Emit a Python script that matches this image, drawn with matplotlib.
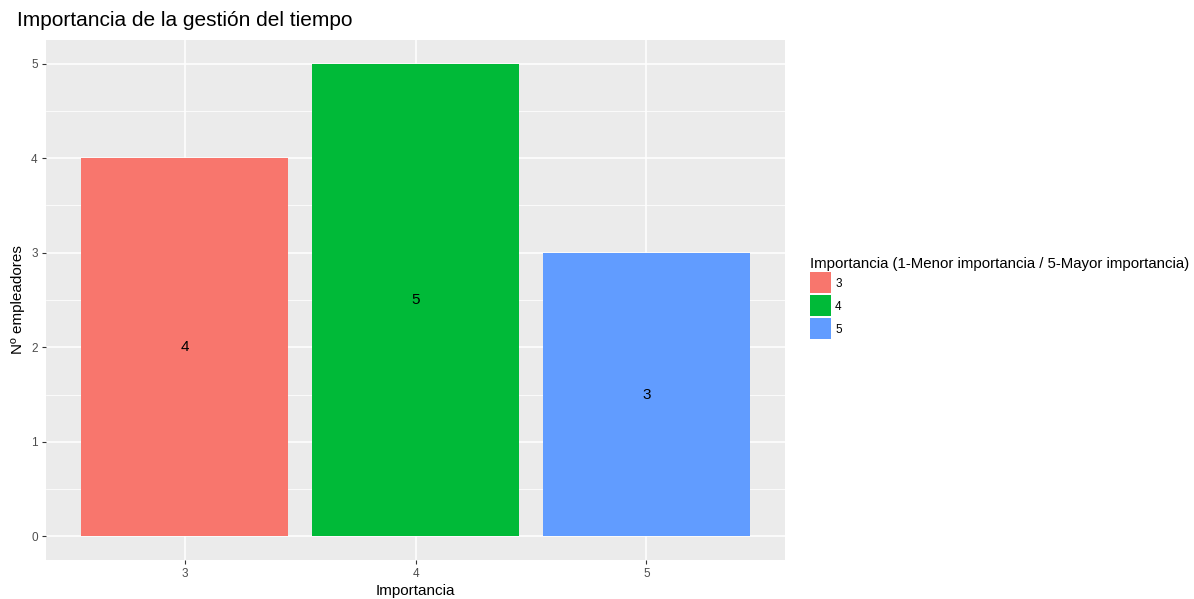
import matplotlib
matplotlib.use("Agg")
import matplotlib.pyplot as plt
from matplotlib.patches import Patch
import numpy as np

categories = ["3", "4", "5"]
counts = [4, 5, 3]
colors = ["#F8766D", "#00BA38", "#619CFF"]
title = "Importancia de la gestión del tiempo"
xlabel = "Importancia"
ylabel = "Nº empleadores"
legend_title = "Importancia (1-Menor importancia / 5-Mayor importancia)"

plt.rcParams['font.family'] = ['Liberation Sans', 'DejaVu Sans']

fig = plt.figure(figsize=(11.94, 5.99), dpi=100)
ax = fig.add_axes([46/1194, 39/599, (785-46)/1194, (560-40)/599])
ax.set_facecolor("#EBEBEB")

x = np.arange(len(categories))
ax.bar(x, counts, width=0.9, color=colors, zorder=3)
for xi, c in zip(x, counts):
    ax.text(xi, c/2, str(c), ha="center", va="center", fontsize=11, color="black", zorder=4)

ax.set_xlim(-0.6, len(categories)-1+0.6)
ax.set_ylim(-0.25, 5.25)
ax.set_xticks(x)
ax.set_xticklabels(categories)
ax.set_yticks(range(0, 6))
ax.set_yticks(np.arange(0.5, 5.5, 1.0), minor=True)
ax.grid(which="major", color="white", linewidth=1.1, zorder=0)
ax.grid(which="minor", axis="y", color="white", linewidth=0.55, zorder=0)
ax.set_axisbelow(True)
for s in ax.spines.values():
    s.set_visible(False)
ax.tick_params(which="major", length=3, width=0.8, color="#333333", labelcolor="#4D4D4D", labelsize=8.5, pad=3)
ax.tick_params(which="minor", length=0)

ax.set_xlabel(xlabel, fontsize=11, labelpad=3)
ax.set_ylabel(ylabel, fontsize=11, labelpad=4)
fig.text(17/1194, 1-20/599, title, fontsize=15, ha="left", va="center")

handles = [Patch(facecolor=c, edgecolor="none") for c in colors]
leg = fig.legend(handles, categories, title=legend_title, loc="upper left",
                 bbox_to_anchor=(810/1194, 1-257/599), frameon=False, fontsize=8.5,
                 title_fontsize=10.8, handlelength=1.78, handleheight=2.36,
                 handletextpad=0.35, labelspacing=0.17, borderaxespad=0, borderpad=0)
leg._legend_box.align = "left"
leg._legend_box.sep = 1

fig.savefig("out.png", dpi=100)
